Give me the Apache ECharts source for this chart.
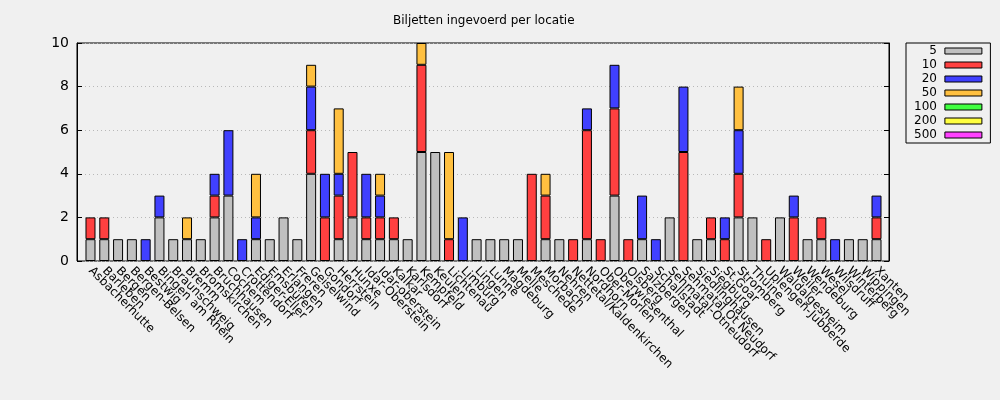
<!DOCTYPE html>
<html><head><meta charset="utf-8">
<script src="https://cdn.jsdelivr.net/npm/echarts@6/dist/echarts.min.js"></script>
<style>html,body{margin:0;padding:0;background:#f0f0f0}#c{width:1000px;height:400px}</style>
</head><body><div id="c"></div>
<script>
const categories = ["Asbacherhutte","Barleben","Bergen","Bergen-Belsen","Bestwig","Bingen am Rhein","Braunschweig","Bremm","Bromskirchen","Bruchhausen","Cochem","Crottendorf","Ediger-Eller","Emsbüren","Erlangen","Freren","Geiselwind","Gondorf","Herrstein","Hunxe","Idar-Oberstein","Idar-oberstein","Kalkar","Karlsdorf","Kempfeld","Keulen","Lichtenau","Limburg","Lingen","Lunne","Magdeburg","Melle","Meschede","Morbach","Nehren","Nettetal/Kaldenkirchen","Nordhorn","Ober-Morlen","Oberwiesenthal","Olsberg","Salzbergen","Schallstadt","Sehmatal-Otneudorf","Sehmatal Ot Neudorf","Siedlinghausen","Siegburg","St.Goar","Stromberg","Thuine","Uplengen-Jubberde","Waldalgesheim","Weiler","Wendeburg","Wesel","Wilsdruff","Winterberg","Wippingen","Xanten"];
const s5   = [1,1,1,1,0,2,1,1,1,2,3,0,1,1,2,1,4,0,1,2,1,1,1,1,5,5,0,0,1,1,1,1,0,1,1,0,1,0,3,0,1,0,2,0,1,1,0,2,2,0,2,0,1,1,0,1,1,1];
const s10  = [1,1,0,0,0,0,0,0,0,1,0,0,0,0,0,0,2,2,2,3,1,1,1,0,4,0,1,0,0,0,0,0,4,2,0,1,5,1,4,1,0,0,0,5,0,1,1,2,0,1,0,2,0,1,0,0,0,1];
const s20  = [0,0,0,0,1,1,0,0,0,1,3,1,1,0,0,0,2,2,1,0,2,1,0,0,0,0,0,2,0,0,0,0,0,0,0,0,1,0,2,0,2,1,0,3,0,0,1,2,0,0,0,1,0,0,1,0,0,1];
const s50  = [0,0,0,0,0,0,0,1,0,0,0,0,2,0,0,0,1,0,3,0,0,1,0,0,1,0,4,0,0,0,0,0,0,1,0,0,0,0,0,0,0,0,0,0,0,0,0,2,0,0,0,0,0,0,0,0,0,0];
const s100 = [];
const s200 = [];
const s500 = [];
const seriesNames = ["5","10","20","50","100","200","500"];
const seriesColors = ["#c0c0c0","#ff4040","#4040ff","#ffc040","#40ff40","#ffff40","#ff40ff"];
const yTicks = [0,2,4,6,8,10];

const allData = [s5,s10,s20,s50,s100,s200,s500];
const chart = echarts.init(document.getElementById('c'), null, {renderer:'canvas'});
const font = 'DejaVu Sans';
const yMin = yTicks[0], yMax = yTicks[yTicks.length-1];
chart.setOption({
  backgroundColor:'#f0f0f0',
  animation:false,
  textStyle:{fontFamily:font},
  title:{text:'Biljetten ingevoerd per locatie',left:388,top:10,textStyle:{fontFamily:font,fontSize:12,fontWeight:'normal',color:'#000'}},
  grid:[
    {left:77,right:111,top:43,bottom:139,show:true,borderColor:'#000',borderWidth:1,backgroundColor:'transparent'},
    {left:83.6,right:116.6,top:43,bottom:139,show:false}
  ],
  legend:{orient:'vertical',left:906,top:43,align:'right',padding:[1,8,1,8],itemGap:0,itemWidth:37,itemHeight:6,
    borderColor:'#000',borderWidth:1,backgroundColor:'#f0f0f0',
    textStyle:{fontFamily:font,fontSize:12,color:'#000',lineHeight:14,padding:[0,3,0,0]},
    data:seriesNames.map(n=>({name:n,icon:'rect',itemStyle:{borderColor:'#000',borderWidth:1}}))},
  xAxis:[
    {gridIndex:0,type:'value',min:0,max:1,show:false},
    {gridIndex:1,type:'category',data:categories,axisLine:{show:false},axisTick:{show:false},
     axisLabel:{interval:0,rotate:-45,margin:8,fontFamily:font,fontSize:12,color:'#000'}}
  ],
  yAxis:[{gridIndex:0,type:'value',min:yMin,max:yMax,interval:2,
    axisLine:{show:true,lineStyle:{color:'#000'}},axisTick:{show:true,inside:true,length:5,lineStyle:{color:'#000'}},
    axisLabel:{fontFamily:font,fontSize:14,color:'#000',margin:8},
    splitLine:{show:true,lineStyle:{color:'#b8b8b8',type:[1,3]}}},
    {gridIndex:0,type:'value',position:'right',min:yMin,max:yMax,interval:2,axisLine:{show:true,lineStyle:{color:'#000'}},
    axisTick:{show:true,inside:true,length:5,lineStyle:{color:'#000'}},axisLabel:{show:false},splitLine:{show:false}},
    {gridIndex:1,type:'value',min:yMin,max:yMax,show:false}],
  series:seriesNames.map((n,i)=>({name:n,type:'bar',stack:'t',barWidth:10,xAxisIndex:1,yAxisIndex:2,
    itemStyle:{color:seriesColors[i],borderColor:'#000',borderWidth:1},
    data:categories.map((c,j)=>{const v=allData[i][j]||0;return v===0?'-':v;})}))
});
</script></body></html>
